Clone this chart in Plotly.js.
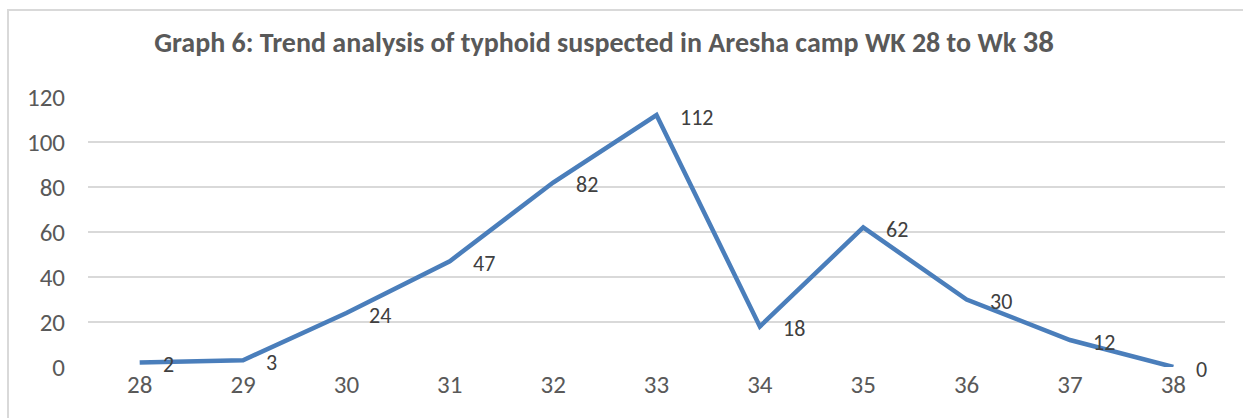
<!DOCTYPE html>
<html>
<head>
<meta charset="utf-8">
<script src="https://cdn.plot.ly/plotly-3.0.1.min.js"></script>
<style>
  body { margin: 0; background: #fff; }
  #wrap { position: relative; width: 1243px; height: 418px; }
  #chart { width: 1243px; height: 418px; }
  #frame {
    position: absolute; left: 7px; top: 9px; right: 0; bottom: 0;
    border-top: 2px solid #d9d9d9; border-left: 2px solid #d9d9d9;
    pointer-events: none;
  }
</style>
</head>
<body>
<div id="wrap">
  <div id="chart"></div>
  <div id="frame"></div>
</div>
<script>
// weeks and suspected typhoid cases
var weeks = ['28', '29', '30', '31', '32', '33', '34', '35', '36', '37', '38'];
var cases = [2, 3, 24, 47, 82, 112, 18, 62, 30, 12, 0];
var yTicks = [0, 20, 40, 60, 80, 100, 120];

var baseFont = "Carlito, Calibri, 'Open Sans', sans-serif";

// value labels sit to the right of each point (x given as category index)
var labels = weeks.map(function (w, i) {
    return {
        x: i,
        y: cases[i],
        text: String(cases[i]),
        xanchor: 'left',
        yanchor: 'middle',
        xshift: 21,
        yshift: -2,
        showarrow: false,
        font: {family: baseFont, size: 22, color: '#404040'}
    };
});

var trace = {
    x: weeks,
    y: cases,
    type: 'scatter',
    mode: 'lines',
    line: {color: '#4a7ebb', width: 4.5},
    hoverinfo: 'skip'
};

var layout = {
    width: 1243,
    height: 418,
    margin: {l: 88, r: 18, t: 97, b: 51},
    paper_bgcolor: '#fff',
    plot_bgcolor: '#fff',
    showlegend: false,
    title: {
        text: '<b>Graph 6: Trend analysis of typhoid suspected in Aresha camp WK 28 to Wk <span style="font-size:31px">38</span></b>',
        font: {family: baseFont, size: 28, color: '#595959'},
        xref: 'container',
        x: 0.486,
        xanchor: 'center',
        yref: 'container',
        y: 0.9,
        yanchor: 'middle'
    },
    xaxis: {
        type: 'category',
        range: [-0.5, weeks.length - 0.5],
        showgrid: false,
        zeroline: false,
        showline: false,
        ticks: '',
        ticklabelstandoff: 0,
        tickfont: {family: baseFont, size: 25, color: '#595959'}
    },
    yaxis: {
        range: [0, 120],
        tickvals: yTicks,
        showgrid: true,
        gridcolor: '#d9d9d9',
        gridwidth: 1.5,
        zeroline: false,
        showline: false,
        ticks: '',
        ticklabelstandoff: 22,
        tickfont: {family: baseFont, size: 25, color: '#595959'}
    },
    annotations: labels
};

Plotly.newPlot('chart', [trace], layout, {displayModeBar: false, staticPlot: true});
</script>
</body>
</html>
